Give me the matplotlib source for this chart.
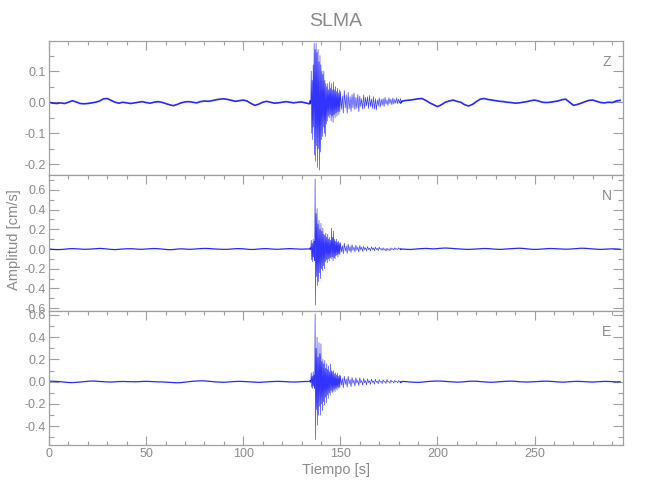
import numpy as np
import matplotlib
matplotlib.use("Agg")
import matplotlib.pyplot as plt
from matplotlib.ticker import MultipleLocator, FormatStrFormatter

plt.rcParams['font.family'] = ['Liberation Sans', 'DejaVu Sans']

# ---------------- data ----------------
title = "SLMA"
components = ["Z", "N", "E"]
xlabel = "Tiempo [s]"
ylabel = "Amplitud [cm/s]"

# slow background trace, one value every 2 s from 0 to 294 s
base_t = np.arange(0, 296, 2)
Z_base = [0.000, -0.003, -0.004, -0.002, -0.004, 0.000, 0.005, 0.001, -0.004, -0.005,
          -0.004, -0.002, 0.000, 0.004, 0.011, 0.012, 0.006, 0.000, -0.003, 0.000,
          -0.002, -0.004, -0.002, 0.000, 0.002, -0.001, -0.003, 0.000, 0.002, 0.000,
          -0.004, -0.008, -0.011, -0.007, -0.002, 0.001, 0.002, 0.000, -0.002, 0.002,
          0.004, 0.003, 0.005, 0.008, 0.010, 0.011, 0.009, 0.006, 0.003, 0.005,
          0.007, 0.004, -0.004, -0.010, -0.006, 0.000, 0.003, 0.000, -0.003, -0.002,
          0.000, 0.002, 0.000, -0.002, 0.000, 0.001, -0.002, -0.005, 0.000, 0.000,
          0.000, 0.002, 0.000, -0.002, 0.000, 0.002, 0.000, -0.002, 0.000, 0.000,
          -0.002, 0.000, 0.000, -0.002, -0.003, 0.000, -0.002, 0.000, 0.002, 0.004,
          0.006, 0.004, 0.006, 0.007, 0.009, 0.011, 0.012, 0.006, -0.002, -0.008,
          -0.014, -0.008, 0.000, 0.004, 0.007, 0.003, 0.000, -0.008, -0.012, -0.007,
          0.002, 0.010, 0.012, 0.009, 0.007, 0.005, 0.003, 0.002, 0.000, -0.001,
          -0.003, -0.002, 0.000, 0.002, 0.005, 0.007, 0.004, 0.000, -0.001, 0.000,
          0.002, 0.004, 0.008, 0.010, 0.000, -0.010, -0.007, -0.003, 0.002, 0.006,
          0.007, 0.003, -0.001, -0.002, 0.000, -0.001, 0.004, 0.006]
N_base = [0.000, -0.004, -0.006, -0.005, -0.002, 0.002, 0.004, 0.002, 0.000, -0.003,
          -0.002, 0.000, 0.003, 0.006, 0.004, 0.000, -0.004, -0.006, -0.003, 0.000,
          0.002, 0.003, 0.001, -0.002, -0.003, 0.000, 0.003, 0.005, 0.003, 0.000,
          -0.004, -0.007, -0.005, -0.001, 0.002, 0.000, -0.003, -0.002, 0.001, 0.004,
          0.006, 0.005, 0.002, 0.000, -0.002, -0.004, -0.003, 0.000, 0.003, 0.004,
          0.002, -0.002, -0.005, -0.004, 0.000, 0.003, 0.004, 0.001, -0.002, -0.003,
          0.000, 0.002, 0.004, 0.002, 0.000, -0.002, 0.000, 0.000, 0.000, 0.000,
          0.000, 0.000, 0.000, 0.000, 0.000, 0.000, 0.000, 0.000, 0.000, 0.000,
          0.000, 0.000, 0.000, -0.005, -0.008, -0.004, 0.000, 0.004, 0.006, 0.004,
          0.002, 0.000, -0.003, -0.005, -0.002, 0.002, 0.004, 0.006, 0.004, 0.001,
          0.004, 0.008, 0.010, 0.008, 0.005, 0.002, 0.000, -0.003, -0.004, -0.002,
          0.000, 0.003, 0.005, 0.004, 0.001, -0.002, -0.004, -0.002, 0.001, 0.004,
          0.006, 0.008, 0.006, 0.002, -0.002, -0.004, -0.003, 0.000, 0.003, 0.005,
          0.004, 0.002, 0.000, -0.002, -0.001, 0.002, 0.005, 0.008, 0.007, 0.004,
          0.001, -0.002, -0.004, -0.002, 0.000, 0.002, 0.000, -0.002]
E_base = [0.005, 0.004, 0.002, 0.000, -0.004, -0.007, -0.008, -0.006, -0.003, 0.000,
          0.004, 0.006, 0.005, 0.002, 0.000, -0.002, -0.003, -0.001, 0.001, 0.002,
          0.001, 0.000, -0.001, 0.000, 0.002, 0.003, 0.002, 0.000, -0.002, -0.002,
          -0.004, -0.006, -0.008, -0.010, -0.008, -0.004, 0.000, 0.004, 0.006, 0.008,
          0.007, 0.004, 0.001, -0.002, -0.004, -0.005, -0.003, 0.000, 0.002, 0.003,
          0.002, 0.000, -0.002, -0.004, -0.006, -0.004, -0.002, 0.000, 0.002, 0.003,
          0.002, 0.000, -0.002, -0.003, -0.002, 0.000, 0.002, 0.002, 0.000, 0.000,
          0.000, 0.000, 0.000, 0.000, 0.000, 0.000, 0.000, 0.000, 0.000, 0.000,
          0.000, 0.000, 0.000, 0.000, 0.000, -0.003, -0.005, -0.003, 0.000, 0.003,
          0.004, 0.003, 0.000, -0.003, -0.005, -0.006, -0.004, 0.000, 0.003, 0.005,
          0.006, 0.005, 0.003, 0.000, -0.002, -0.004, -0.003, 0.000, 0.003, 0.005,
          0.004, 0.001, -0.002, -0.004, -0.005, -0.003, 0.000, 0.002, 0.004, 0.005,
          0.003, 0.000, -0.002, -0.003, -0.002, 0.000, 0.002, 0.004, 0.005, 0.003,
          0.001, -0.002, -0.004, -0.003, 0.000, 0.002, 0.003, 0.002, 0.000, -0.002,
          -0.003, -0.001, 0.001, 0.003, 0.002, 0.000, -0.002, 0.000]

# strong-motion part: upper / lower swing of the trace at each reading time
burst_t = np.concatenate([np.arange(134.5, 150.0, 0.5), np.arange(150.0, 182.0, 1.0)])
Z_hi = [0.004, 0.10, 0.07, 0.12, 0.19, 0.17, 0.19, 0.16, 0.17, 0.13, 0.15, 0.12, 0.10, 0.09, 0.10, 0.07,
        0.06, 0.05, 0.06, 0.04, 0.065, 0.045, 0.06, 0.04, 0.065, 0.04, 0.05, 0.035, 0.045, 0.03, 0.04,
        0.035, 0.02, 0.038, 0.024, 0.032, 0.018, 0.025, 0.03, 0.016, 0.025, 0.02, 0.012, 0.024, 0.016,
        0.018, 0.022, 0.01, 0.018, 0.012, 0.008, 0.015, 0.01, 0.012, 0.016, 0.008, 0.015, 0.01,
        0.014, 0.009, 0.014, 0.01, 0.012]
Z_lo = [-0.006, -0.10, -0.12, -0.08, -0.17, -0.19, -0.14, -0.21, -0.15, -0.218, -0.16, -0.12, -0.11,
        -0.08, -0.10, -0.11, -0.07, -0.06, -0.045, -0.05, -0.04, -0.06, -0.045, -0.065, -0.04, -0.05,
        -0.035, -0.045, -0.03, -0.04, -0.03,
        -0.022, -0.035, -0.018, -0.035, -0.022, -0.03, -0.018, -0.024, -0.02, -0.03, -0.014, -0.022,
        -0.02, -0.012, -0.02, -0.014, -0.02, -0.022, -0.025, -0.012, -0.016, -0.01, -0.014, -0.006,
        -0.01, -0.004, -0.008, -0.006, -0.003, -0.005, -0.002, -0.002]
N_hi = [0.01, 0.09, 0.06, 0.10, 0.08, 0.71, 0.36, 0.41, 0.25, 0.29, 0.20, 0.26, 0.18, 0.21, 0.15, 0.14,
        0.16, 0.12, 0.15, 0.10, 0.12, 0.09, 0.21, 0.12, 0.18, 0.10, 0.08, 0.10, 0.07, 0.08, 0.06,
        0.065, 0.035, 0.06, 0.03, 0.05, 0.025, 0.045, 0.02, 0.04, 0.018, 0.035, 0.02, 0.028, 0.012,
        0.025, 0.01, 0.022, 0.012, 0.02, 0.008, 0.018, 0.006, 0.012, 0.004, 0.008, 0.002, 0.012, 0.004,
        0.012, 0.004, 0.012, 0.006]
N_lo = [-0.01, -0.11, -0.13, -0.08, -0.12, -0.57, -0.28, -0.37, -0.33, -0.24, -0.30, -0.20, -0.22,
        -0.17, -0.20, -0.13, -0.11, -0.14, -0.10, -0.12, -0.09, -0.10, -0.08, -0.12, -0.09, -0.10,
        -0.07, -0.06, -0.08, -0.05, -0.06,
        -0.03, -0.048, -0.022, -0.045, -0.02, -0.035, -0.015, -0.03, -0.012, -0.03, -0.01, -0.025,
        -0.008, -0.02, -0.006, -0.02, -0.005, -0.018, -0.006, -0.016, -0.004, -0.015, -0.01, -0.02,
        -0.012, -0.018, -0.006, -0.01, -0.004, -0.006, -0.002, -0.004]
E_hi = [0.01, 0.08, 0.05, 0.09, 0.06, 0.61, 0.30, 0.40, 0.22, 0.35, 0.25, 0.34, 0.18, 0.20, 0.16, 0.19,
        0.12, 0.16, 0.11, 0.14, 0.09, 0.16, 0.10, 0.09, 0.10, 0.07, 0.08, 0.06, 0.075, 0.05, 0.06,
        0.055, 0.03, 0.05, 0.025, 0.05, 0.02, 0.038, 0.015, 0.036, 0.012, 0.035, 0.01, 0.03, 0.01,
        0.026, 0.008, 0.024, 0.006, 0.022, 0.005, 0.02, 0.004, 0.018, 0.003, 0.02, 0.002, 0.015,
        0.003, 0.013, 0.002, 0.011, 0.004]
E_lo = [-0.008, -0.05, -0.06, -0.04, -0.06, -0.52, -0.25, -0.39, -0.30, -0.22, -0.30, -0.20, -0.26,
        -0.18, -0.21, -0.14, -0.19, -0.12, -0.15, -0.10, -0.12, -0.08, -0.10, -0.09, -0.07, -0.09,
        -0.06, -0.075, -0.05, -0.06, -0.05,
        -0.03, -0.055, -0.025, -0.05, -0.02, -0.045, -0.015, -0.04, -0.012, -0.035, -0.01, -0.03,
        -0.01, -0.028, -0.008, -0.024, -0.006, -0.022, -0.005, -0.02, -0.004, -0.018, -0.004, -0.016,
        -0.003, -0.014, -0.002, -0.012, -0.003, -0.01, -0.002, -0.007]

ylims = [(-0.234, 0.197), (-0.626, 0.751), (-0.568, 0.637)]
ymajor = [0.1, 0.2, 0.2]
yminor = [0.05, 0.1, 0.1]
x_range = (0, 295.5)

# ---------------- drawing ----------------
trace_color = '#0000ff'
axis_color = '#a0a0a0'
text_color = '#8a8a8a'

fig = plt.figure(figsize=(6.5, 5.0), dpi=100)
left, width = 49 / 650, 574 / 650
edges = [41, 175, 310.7, 445]
axes = []
for i in range(3):
    top = 1 - edges[i] / 500
    bot = 1 - edges[i + 1] / 500
    ax = fig.add_axes([left, bot, width, top - bot])
    axes.append(ax)

bases = [Z_base, N_base, E_base]
his = [Z_hi, N_hi, E_hi]
los = [Z_lo, N_lo, E_lo]
base_lw = [1.2, 0.9, 0.9]

bt = np.asarray(burst_t)
step = np.append(np.diff(bt), bt[-1] - bt[-2])
for i, ax in enumerate(axes):
    b = np.asarray(bases[i])
    pre = base_t <= bt[0]
    post = base_t >= bt[-1] + step[-1]
    zx = np.column_stack([bt, bt + step / 2]).ravel()
    zy = np.column_stack([his[i], los[i]]).ravel()
    ax.plot(np.append(base_t[pre], zx[0]), np.append(b[pre], zy[0]),
            color=trace_color, lw=base_lw[i], alpha=0.85)
    ax.plot(zx, zy, color=trace_color, lw=0.45, alpha=0.8)
    ax.plot(np.insert(base_t[post], 0, zx[-1]), np.insert(b[post], 0, zy[-1]),
            color=trace_color, lw=base_lw[i], alpha=0.85)

    ax.set_xlim(*x_range)
    ax.set_ylim(*ylims[i])
    ax.xaxis.set_major_locator(MultipleLocator(50))
    ax.xaxis.set_minor_locator(MultipleLocator(10))
    ax.yaxis.set_major_locator(MultipleLocator(ymajor[i]))
    ax.yaxis.set_minor_locator(MultipleLocator(yminor[i]))
    ax.yaxis.set_major_formatter(FormatStrFormatter('%.1f'))
    for s in ax.spines.values():
        s.set_color(axis_color)
        s.set_linewidth(0.9)
    last = (i == 2)
    ax.tick_params(axis='x', which='both', direction='in', top=True, bottom=last,
                   labelbottom=last, color=axis_color, labelcolor=text_color,
                   labelsize=9, pad=2)
    ax.tick_params(axis='x', which='major', length=6.5, width=0.8)
    ax.tick_params(axis='x', which='minor', length=3.2, width=0.8)
    ax.tick_params(axis='y', which='both', direction='in', left=True, right=True,
                   color=axis_color, labelcolor=text_color, labelsize=9, pad=2)
    ax.tick_params(axis='y', which='major', length=7, width=0.8)
    ax.tick_params(axis='y', which='minor', length=3.5, width=0.8)
    ax.text(0.972, 0.845, components[i], transform=ax.transAxes, ha='center',
            va='center', fontsize=10, color=text_color)

fig.text((49 + 623) / 2 / 650, 1 - 22 / 500, title, ha='center', va='center',
         fontsize=14, color=text_color)
fig.text((49 + 623) / 2 / 650, 1 - 470 / 500, xlabel, ha='center', va='center',
         fontsize=10.5, color=text_color)
fig.text(14 / 650, 1 - 240 / 500, ylabel, ha='center', va='center', rotation=90,
         fontsize=10.5, color=text_color)

fig.savefig('out.png', dpi=100, facecolor='white')
